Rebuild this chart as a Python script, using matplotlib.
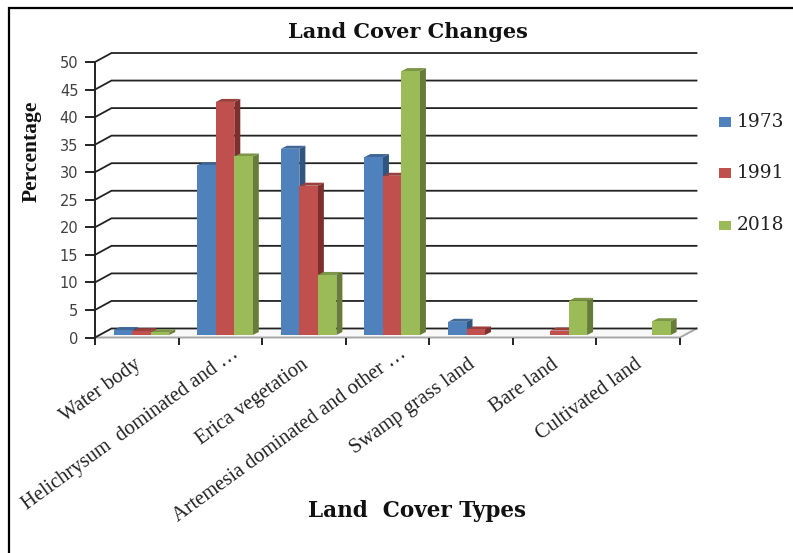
import matplotlib
matplotlib.use("Agg")
import matplotlib.pyplot as plt
from matplotlib.patches import Polygon, Rectangle
from matplotlib.lines import Line2D

categories = ["Water body", "Helichrysum  dominated and …", "Erica vegetation",
              "Artemesia dominated and other …", "Swamp grass land", "Bare land", "Cultivated land"]
years = ["1973", "1991", "2018"]
v1973 = [0.9, 30.8, 33.8, 32.3, 2.4, 0, 0]
v1991 = [0.7, 42.3, 27.1, 28.9, 1.0, 0.8, 0]
v2018 = [0.5, 32.4, 10.9, 47.9, 0, 6.2, 2.5]
yticks = list(range(0, 55, 5))
front = ["#4F81BD", "#C0504D", "#9BBB59"]
side = ["#30557F", "#7D2F2D", "#677C39"]
top = ["#3F6797", "#99403D", "#7C9647"]
label_shift = [0, 18, 0, 18, 0, 0, 0]

W, H = 793, 553
fig = plt.figure(figsize=(W/100, H/100), dpi=100, facecolor="white")
L, R, B, T = 95, 680, 337.5, 62
ax = fig.add_axes([L/W, 1-B/H, (R-L)/W, (B-T)/H])
ax.set_xlim(0, 7); ax.set_ylim(0, 50)
ax.patch.set_visible(False)
for s in ax.spines.values():
    s.set_visible(False)
ax.spines["left"].set_visible(True)
ax.spines["left"].set_linewidth(1.4)
ax.spines["left"].set_color("#222222")
px = 7/(R-L); py = 50/(B-T)
wx, wy = 16.5*px, 9*py
dx, dy = 6*px, 3*py
base = 2.5*py

ax.add_patch(Polygon([(0, 0), (7, 0), (7+wx, wy), (wx, wy)], closed=True, fc="#F8F8F8", ec="none",
                     clip_on=False, zorder=0.5))
ax.plot([0, 7, 7+wx], [0, 0, wy], color="#A6A6A6", lw=1.4, clip_on=False, zorder=1)
for v in yticks:
    ax.plot([0, wx, 7+wx], [v, v+wy, v+wy], color="#222222", lw=1.3, clip_on=False, zorder=1,
            solid_joinstyle="miter")

series = [v1973, v1991, v2018]
bw = 18.5*px
start = (197.3-L)*px - 1
for c in range(len(categories)):
    for s, vals in enumerate(series):
        v = vals[c]
        if v <= 0:
            continue
        x0 = c + start + s*bw
        x1 = x0 + bw
        y0, y1 = base, base + v
        z = 3 + 0.1*s
        ax.add_patch(Polygon([(x1, y0), (x1+dx, y0+dy), (x1+dx, y1+dy), (x1, y1)], closed=True,
                             fc=side[s], ec="none", clip_on=False, zorder=z))
        ax.add_patch(Polygon([(x0, y1), (x0+dx, y1+dy), (x1+dx, y1+dy), (x1, y1)], closed=True,
                             fc=top[s], ec="none", clip_on=False, zorder=z))
        ax.add_patch(Rectangle((x0, y0), bw, v, fc=front[s], ec="none", clip_on=False, zorder=z+0.05))

ax.set_yticks(yticks)
ax.set_yticklabels([str(v) for v in yticks], fontfamily="DejaVu Sans", fontsize=10.5, color="#404040")
ax.tick_params(axis="y", length=7, width=1.4, color="#222222", pad=5)
ax.set_xticks(range(8))
ax.set_xticklabels([])
ax.tick_params(axis="x", length=5, width=1.4, color="#222222")

ang = 36
for i, c in enumerate(categories):
    sh = label_shift[i]
    ax.annotate(c, xy=(i+0.5, 0), xytext=(2 + sh*0.81, -25 + sh*0.59), textcoords="offset pixels",
                rotation=ang, rotation_mode="anchor", ha="right", va="center",
                fontfamily="Liberation Serif", fontsize=14.8, color="#222222", annotation_clip=False)

fig.text(408/W, 1-32/H, "Land Cover Changes", ha="center", va="center",
         fontfamily="DejaVu Serif", fontweight="bold", fontsize=15, color="#111111")
fig.text(417/W, 1-511/H, "Land  Cover Types", ha="center", va="center",
         fontfamily="DejaVu Serif", fontweight="bold", fontsize=15.5, color="#111111")
fig.text(32/W, 1-151/H, "Percentage", ha="center", va="center", rotation=90,
         fontfamily="Liberation Serif", fontweight="bold", fontsize=15.5, color="#111111")

for y, lab, col in zip([122, 173, 225], years, front):
    fig.add_artist(Rectangle((719/W, 1-(y+4.5)/H), 12/W, 9/H, transform=fig.transFigure, fc=col, ec="none"))
    fig.text(737/W, 1-y/H, lab, ha="left", va="center", fontfamily="DejaVu Serif",
             fontsize=13.4, color="#222222")

fig.add_artist(Line2D([8.5/W, 8.5/W, 1], [0, 1-7.5/H, 1-7.5/H], transform=fig.transFigure,
                      color="black", lw=1.6, solid_joinstyle="miter"))
fig.savefig("out.png", dpi=100)
